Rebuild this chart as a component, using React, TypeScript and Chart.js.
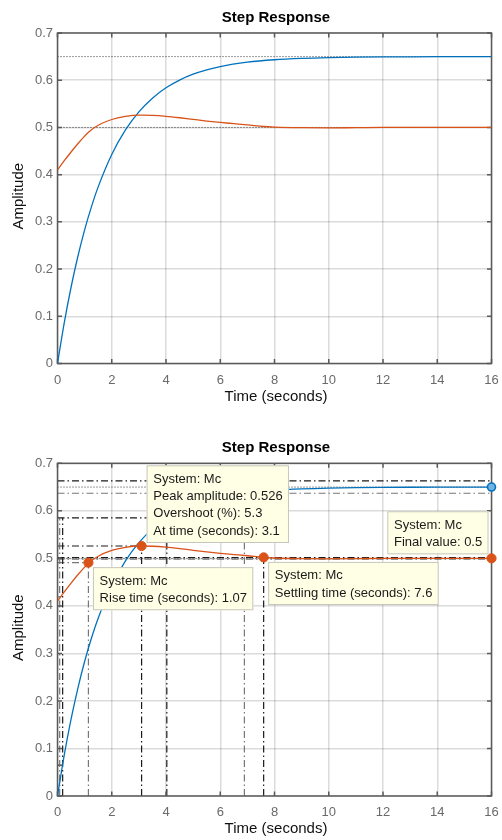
import React, { useEffect, useRef } from 'react';
import { Chart, registerables } from 'chart.js';

Chart.register(...registerables);

// ---------- data ----------
const blueTimes = [0, 0.25, 0.5, 0.75, 1, 1.25, 1.5, 2, 2.5, 3, 3.5, 4, 4.5, 5, 5.5, 6, 7, 8, 9, 10, 11, 12, 13, 14, 15, 16];
const blueValues = [0, 0.0865, 0.1615, 0.2266, 0.283, 0.3318, 0.3741, 0.4427, 0.4942, 0.533, 0.562, 0.5839, 0.6003, 0.6127, 0.6219, 0.629, 0.6381, 0.6433, 0.6462, 0.6479, 0.6488, 0.6493, 0.6496, 0.6498, 0.6499, 0.65];

const orangeTimes = [0, 0.25, 0.5, 0.75, 1, 1.14, 1.5, 2, 2.5, 3, 3.1, 3.5, 4, 4.5, 5, 5.5, 6, 6.5, 7, 7.6, 8, 9, 10, 11, 12, 14, 16];
const orangeValues = [0.41, 0.4295, 0.448, 0.4655, 0.4815, 0.4898, 0.5045, 0.5168, 0.5232, 0.526, 0.526, 0.5255, 0.5235, 0.5205, 0.517, 0.5135, 0.5105, 0.508, 0.5055, 0.502, 0.5008, 0.4995, 0.499, 0.4995, 0.5, 0.5, 0.5];

const xTickMin = 0;
const xTickMax = 16;
const xTickStep = 2;
const yTickMin = 0;
const yTickMax = 0.7;
const yTickStep = 0.1;

const finalValues = [0.65, 0.5];

// characteristic markers of system Mc (orange): rise, peak, settling, final
const markerTimes = [1.14, 3.1, 7.6, 16];
const markerValues = [0.491, 0.526, 0.502, 0.5];
// blue system final value marker
const blueMarkerTimes = [16];
const blueMarkerValues = [0.65];

// horizontal characteristic lines: value, from time, to time
const hLineValues = [0.663, 0.637, 0.585, 0.065, 0.526, 0.5018, 0.4982, 0.491, 0.419];
const hLineStarts = [0, 0, 0, 0, 0, 0, 0, 0, 0];
const hLineEnds = [16, 16, 4.03, 0.19, 3.1, 16, 16, 1.14, 0.08];
const hLineTones = ['k', 'g', 'k', 'k', 'k', 'k', 'g', 'g', 'g'];

// vertical characteristic lines: time, from value, to value
const vLineTimes = [0.08, 0.19, 1.14, 3.1, 4.03, 6.89, 7.6];
const vLineStarts = [0, 0, 0, 0, 0, 0, 0];
const vLineEnds = [0.585, 0.585, 0.491, 0.526, 0.585, 0.637, 0.502];
const vLineTones = ['g', 'k', 'g', 'k', 'k', 'g', 'k'];

const tipRise = ['System: Mc', 'Rise time (seconds): 1.07'];
const tipPeak = ['System: Mc', 'Peak amplitude: 0.526', 'Overshoot (%): 5.3', 'At time (seconds): 3.1'];
const tipSettle = ['System: Mc', 'Settling time (seconds): 7.6'];
const tipFinal = ['System: Mc', 'Final value: 0.5'];

// ---------- styling ----------
const FONT = '"Liberation Sans", Arial, Helvetica, sans-serif';
const BLUE = '#0072BD';
const ORANGE = '#D95319';
const BOX = '#5a5a5a';

type Tip = { lines: string[]; marker: number; place: 'ur' | 'ul' | 'lr' };

function drawSegment(ctx: CanvasRenderingContext2D, x0: number, y0: number, x1: number, y1: number, color: string, dash: number[], width: number) {
  ctx.save();
  ctx.strokeStyle = color;
  ctx.lineWidth = width;
  ctx.setLineDash(dash);
  ctx.beginPath();
  ctx.moveTo(x0, y0);
  ctx.lineTo(x1, y1);
  ctx.stroke();
  ctx.restore();
}

const stepPlugin = {
  id: 'stepPlugin',
  beforeDatasetsDraw(chart: any, _args: any, opts: any) {
    const { ctx, chartArea: a, scales } = chart;
    const xs = scales.x;
    const ys = scales.y;
    finalValues.forEach((v) => {
      const py = ys.getPixelForValue(v);
      drawSegment(ctx, a.left, py, a.right, py, '#333333', [1, 2], 1);
    });
    if (opts.characteristics) {
      const dashDot = [7, 3, 1.5, 3];
      hLineValues.forEach((v, i) => {
        const py = ys.getPixelForValue(v);
        const c = hLineTones[i] === 'k' ? '#1a1a1a' : '#777777';
        drawSegment(ctx, xs.getPixelForValue(hLineStarts[i]), py, xs.getPixelForValue(hLineEnds[i]), py, c, dashDot, 1.2);
      });
      vLineTimes.forEach((t, i) => {
        const px = xs.getPixelForValue(t);
        const c = vLineTones[i] === 'k' ? '#1a1a1a' : '#777777';
        drawSegment(ctx, px, ys.getPixelForValue(vLineStarts[i]), px, ys.getPixelForValue(vLineEnds[i]), c, dashDot, 1.2);
      });
    }
    ctx.save();
    ctx.strokeStyle = BOX;
    ctx.lineWidth = 1.5;
    ctx.strokeRect(a.left, a.top, a.right - a.left, a.bottom - a.top);
    const tl = 4.5;
    ctx.beginPath();
    xs.ticks.forEach((tk: any) => {
      const px = xs.getPixelForValue(tk.value);
      ctx.moveTo(px, a.bottom);
      ctx.lineTo(px, a.bottom - tl);
      ctx.moveTo(px, a.top);
      ctx.lineTo(px, a.top + tl);
    });
    ys.ticks.forEach((tk: any) => {
      const py = ys.getPixelForValue(tk.value);
      ctx.moveTo(a.left, py);
      ctx.lineTo(a.left + tl, py);
      ctx.moveTo(a.right, py);
      ctx.lineTo(a.right - tl, py);
    });
    ctx.stroke();
    ctx.restore();
  },
  afterDraw(chart: any, _args: any, opts: any) {
    const { ctx, chartArea: a } = chart;
    ctx.save();
    ctx.fillStyle = '#000';
    ctx.textAlign = 'center';
    ctx.textBaseline = 'middle';
    ctx.font = `bold 15px ${FONT}`;
    ctx.fillText('Step Response', (a.left + a.right) / 2 + 1.5, a.top - 15);
    ctx.font = `15px ${FONT}`;
    ctx.fillStyle = '#111';
    ctx.fillText('Time (seconds)', (a.left + a.right) / 2 + 1.5, a.bottom + 33);
    ctx.translate(19, (a.top + a.bottom) / 2 - 2);
    ctx.rotate(-Math.PI / 2);
    ctx.fillText('Amplitude', 0, 0);
    ctx.restore();

    if (opts.tips) {
      const meta = chart.getDatasetMeta(0);
      (opts.tips as Tip[]).forEach((tip) => {
        const pt = meta.data[tip.marker];
        const mx = pt.x;
        const my = pt.y;
        ctx.save();
        ctx.font = `13px ${FONT}`;
        const w = Math.max(...tip.lines.map((l) => ctx.measureText(l).width)) + 13;
        const h = tip.lines.length * 17.3 + 8.5;
        let left = 0;
        let top = 0;
        if (tip.place === 'ur') { left = mx + 5; top = my - 3 - h; }
        else if (tip.place === 'ul') { left = mx - 3 - w; top = my - 4 - h; }
        else { left = mx + 4.5; top = my + 4.5; }
        ctx.fillStyle = '#FFFFE6';
        ctx.fillRect(left, top, w, h);
        ctx.strokeStyle = '#c6c6bc';
        ctx.lineWidth = 1;
        ctx.strokeRect(left + 0.5, top + 0.5, w - 1, h - 1);
        ctx.fillStyle = '#1a1a1a';
        ctx.textAlign = 'left';
        ctx.textBaseline = 'middle';
        tip.lines.forEach((l, i) => ctx.fillText(l, left + 6.7, top + 14 + i * 17.3));
        ctx.restore();
      });
    }
  },
};

function makeConfig(characteristics: boolean, padTop: number, xHeight: number): any {
  const datasets: any[] = [];
  if (characteristics) {
    datasets.push({
      label: 'Mc characteristics',
      data: markerTimes.map((t, i) => ({ x: t, y: markerValues[i] })),
      showLine: false,
      pointRadius: 4.6,
      pointBackgroundColor: ORANGE,
      pointBorderColor: ORANGE,
      pointBorderWidth: 1,
      borderColor: ORANGE,
      backgroundColor: ORANGE,
      clip: false,
    });
    datasets.push({
      label: 'blue final',
      data: blueMarkerTimes.map((t, i) => ({ x: t, y: blueMarkerValues[i] })),
      showLine: false,
      pointRadius: 4,
      pointBackgroundColor: '#6fb2e3',
      pointBorderColor: BLUE,
      pointBorderWidth: 1.6,
      borderColor: BLUE,
      backgroundColor: BLUE,
      clip: false,
    });
  }
  datasets.push({
    label: 'Mc',
    data: orangeTimes.map((t, i) => ({ x: t, y: orangeValues[i] })),
    borderColor: ORANGE,
    backgroundColor: ORANGE,
    borderWidth: 1.3,
    pointRadius: 0,
    cubicInterpolationMode: 'monotone',
    fill: false,
  });
  datasets.push({
    label: 'G',
    data: blueTimes.map((t, i) => ({ x: t, y: blueValues[i] })),
    borderColor: BLUE,
    backgroundColor: BLUE,
    borderWidth: 1.3,
    pointRadius: 0,
    cubicInterpolationMode: 'monotone',
    fill: false,
  });

  const tips: Tip[] = [
    { lines: tipPeak, marker: 1, place: 'ur' },
    { lines: tipFinal, marker: 3, place: 'ul' },
    { lines: tipRise, marker: 0, place: 'lr' },
    { lines: tipSettle, marker: 2, place: 'lr' },
  ];

  return {
    type: 'line',
    data: { datasets },
    plugins: [stepPlugin],
    options: {
      animation: false,
      responsive: false,
      devicePixelRatio: 1,
      layout: { padding: { top: padTop, right: 10.5, left: 0, bottom: 0 } },
      plugins: {
        legend: { display: false },
        tooltip: { enabled: false },
        title: { display: false },
        stepPlugin: { characteristics, tips: characteristics ? tips : null },
      },
      scales: {
        x: {
          type: 'linear',
          min: xTickMin,
          max: xTickMax,
          afterFit: (s: any) => { s.height = xHeight; s.paddingLeft = 0; s.paddingRight = 0; },
          ticks: {
            stepSize: xTickStep,
            autoSkip: false,
            maxRotation: 0,
            padding: 9,
            color: '#6a6a6a',
            font: { family: FONT, size: 13 },
          },
          grid: { color: 'rgba(0,0,0,0.14)', lineWidth: 1.5, drawTicks: false },
          border: { display: false },
        },
        y: {
          type: 'linear',
          min: yTickMin,
          max: yTickMax,
          afterFit: (s: any) => { s.width = 57.5; s.paddingTop = 0; s.paddingBottom = 0; },
          ticks: {
            stepSize: yTickStep,
            padding: 4.5,
            color: '#6a6a6a',
            font: { family: FONT, size: 13 },
            callback: (v: any) => String(Number(Number(v).toFixed(2))),
          },
          grid: { color: 'rgba(0,0,0,0.14)', lineWidth: 1.5, drawTicks: false },
          border: { display: false },
        },
      },
    },
  };
}

export default function App() {
  const topRef = useRef<HTMLCanvasElement | null>(null);
  const botRef = useRef<HTMLCanvasElement | null>(null);

  useEffect(() => {
    document.body.style.margin = '0';
    document.body.style.background = '#fff';
    const c1 = new Chart(topRef.current as HTMLCanvasElement, makeConfig(false, 33, 56.5));
    const c2 = new Chart(botRef.current as HTMLCanvasElement, makeConfig(true, 43.3, 44));
    return () => {
      c1.destroy();
      c2.destroy();
    };
  }, []);

  return (
    <div style={{ width: 502, height: 840, background: '#fff' }}>
      <canvas ref={topRef} width={502} height={420} style={{ display: 'block', width: 502, height: 420 }} />
      <canvas ref={botRef} width={502} height={420} style={{ display: 'block', width: 502, height: 420 }} />
    </div>
  );
}
